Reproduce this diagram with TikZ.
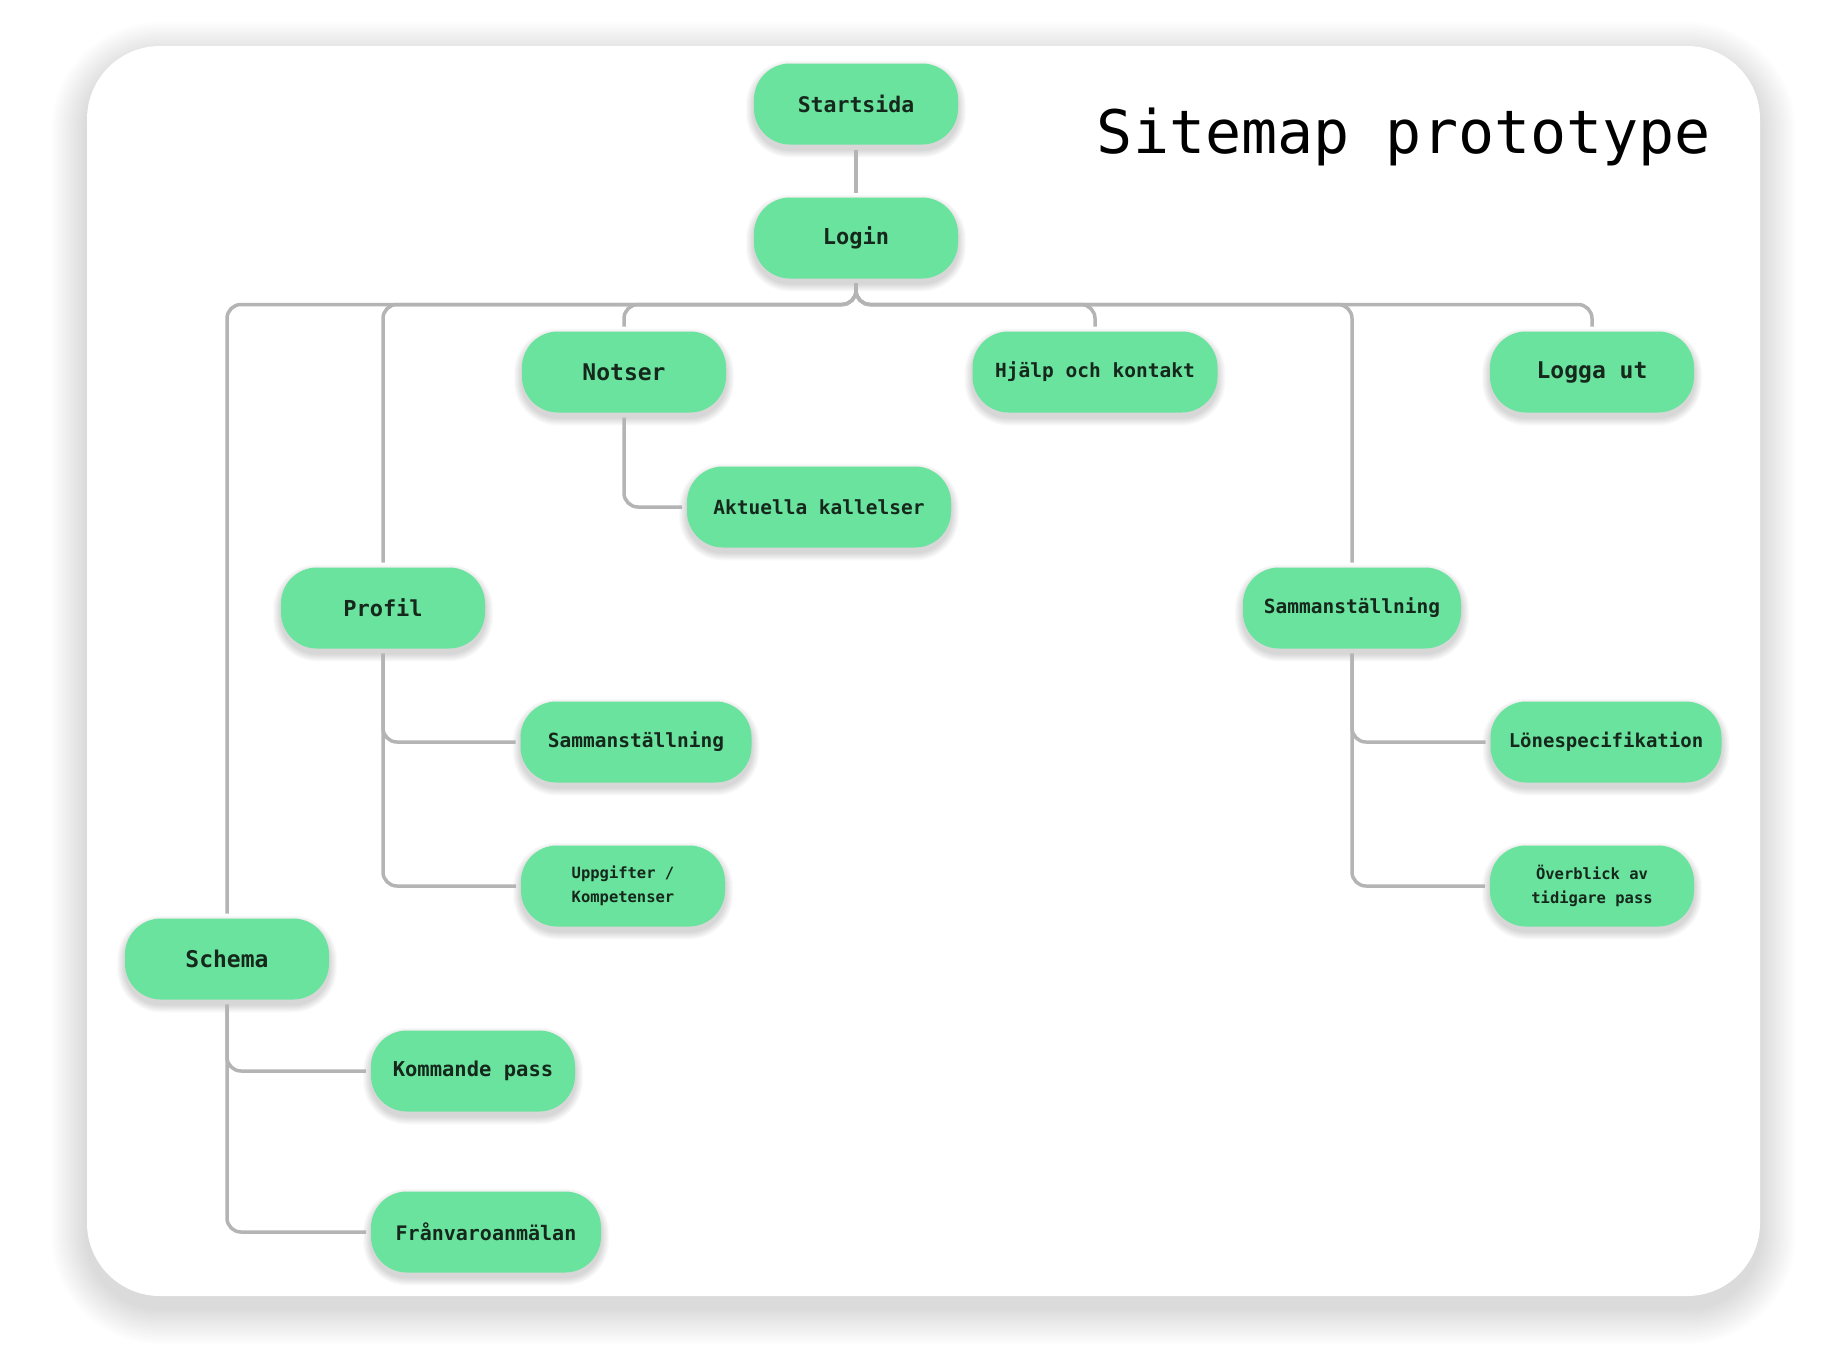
\documentclass[tikz,border=0pt]{standalone}
\usepackage{fontspec}
\setmonofont{DejaVu Sans Mono}
\definecolor{nodegreen}{RGB}{106,227,158}
\definecolor{linegray}{RGB}{180,180,180}
\definecolor{txtdark}{RGB}{22,40,28}
\tikzset{
  sitenode/.style={fill=nodegreen, rounded corners=36pt, minimum height=81pt,
    minimum width=204pt, inner sep=0pt, outer sep=5pt, text=txtdark,
    font=\ttfamily\bfseries\fontsize{20.5}{24}\selectfont, align=center},
  bigtxt/.style={font=\ttfamily\bfseries\fontsize{23}{27}\selectfont},
  midtxt/.style={font=\ttfamily\bfseries\fontsize{19.5}{24}\selectfont},
  smalltxt/.style={font=\ttfamily\bfseries\fontsize{15.5}{24}\selectfont},
  conn/.style={draw=linegray, line width=3.5pt, rounded corners=14pt},
  titletxt/.style={font=\ttfamily\fontsize{60}{66}\selectfont, text=black},
  softshade/.style={fill=black, opacity=#1},
}
% #1 name, #2 x, #3 y, #4 width, #5 extra style, #6 text
\newcommand\mknode[6]{%
  \foreach \i in {1,...,8}{%
    \pgfmathsetmacro\rr{36+\i}%
    \fill[softshade=0.018, rounded corners=\rr pt]
      ({#2-#4/2-\i},{#3-40.5-\i+5}) rectangle ({#2+#4/2+\i},{#3+40.5+\i+5});
  }%
  \node[sitenode, minimum width=#4pt, #5] (#1) at (#2,#3) {#6};
}
\begin{document}
\begin{tikzpicture}[x=1pt,y=-1pt]
\useasboundingbox (0,0) rectangle (1848,1350);
\fill[white] (0,0) rectangle (1848,1350);
% card shadow
\foreach \i in {1,...,18}{%
  \pgfmathsetmacro\rr{73+2*\i}%
  \fill[softshade=0.0068, rounded corners=\rr pt]
    ({87-2*\i},{46-2*\i+12}) rectangle ({1760+2*\i},{1296+2*\i+12});
}
\fill[white, rounded corners=73pt] (87,46) rectangle (1760,1296);

\node[titletxt] (title) at (1404,137) {Sitemap prototype};

\mknode{start}{856}{104}{204}{font=\ttfamily\bfseries\fontsize{21.5}{25}\selectfont}{Startsida}
\mknode{login}{856}{238}{204}{font=\ttfamily\bfseries\fontsize{22}{25}\selectfont}{Login}
\mknode{notser}{624}{372}{204}{bigtxt}{Notser}
\mknode{hjalp}{1095}{372}{245}{midtxt}{Hjälp och kontakt}
\mknode{logga}{1592}{372}{204}{bigtxt}{Logga ut}
\mknode{aktuella}{819}{507}{264}{midtxt}{Aktuella kallelser}
\mknode{profil}{383}{608}{204}{font=\ttfamily\bfseries\fontsize{22}{25}\selectfont}{Profil}
\mknode{samR}{1352}{608}{218}{midtxt}{Sammanställning}
\mknode{samL}{636}{742}{231}{midtxt}{Sammanställning}
\mknode{lone}{1606}{742}{231}{font=\ttfamily\bfseries\fontsize{19}{24}\selectfont}{Lönespecifikation}
\mknode{upp}{623}{886}{204}{smalltxt}{Uppgifter /\\Kompetenser}
\mknode{over}{1592}{886}{204}{smalltxt}{Överblick av\\tidigare pass}
\mknode{schema}{227}{959}{204}{bigtxt}{Schema}
\mknode{kommande}{473}{1071}{204}{}{Kommande pass}
\mknode{franvaro}{486}{1232}{230}{font=\ttfamily\bfseries\fontsize{20}{24}\selectfont}{Frånvaroanmälan}

\draw[conn] (start) -- (login);
\draw[conn] (login.south) -- ++(0,21) -| (schema.north);
\draw[conn] (login.south) -- ++(0,21) -| (profil.north);
\draw[conn] (login.south) -- ++(0,21) -| (notser.north);
\draw[conn] (login.south) -- ++(0,21) -| (hjalp.north);
\draw[conn] (login.south) -- ++(0,21) -| (samR.north);
\draw[conn] (login.south) -- ++(0,21) -| (logga.north);

\draw[conn] (notser.south) |- (aktuella.west);
\draw[conn] (profil.south) |- (samL.west);
\draw[conn] (profil.south) |- (upp.west);
\draw[conn] (samR.south) |- (lone.west);
\draw[conn] (samR.south) |- (over.west);
\draw[conn] (schema.south) |- (kommande.west);
\draw[conn] (schema.south) |- (franvaro.west);
\end{tikzpicture}
\end{document}
